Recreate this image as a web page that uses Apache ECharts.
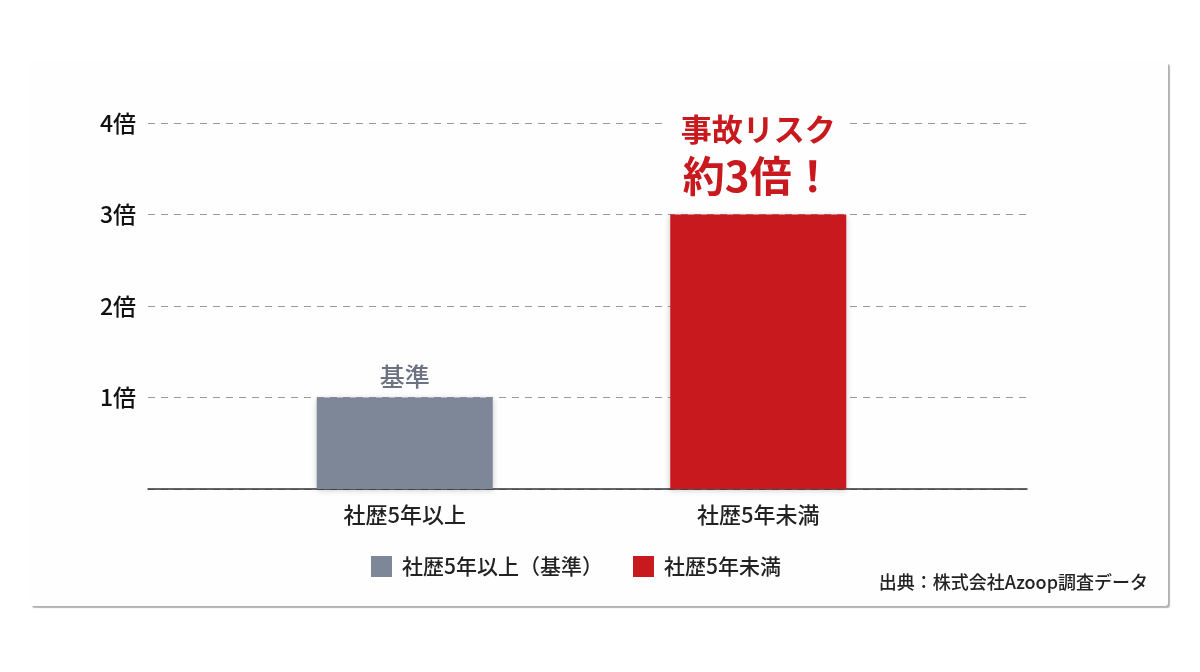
<!DOCTYPE html>
<html>
<head>
<meta charset="utf-8">
<script src="https://cdn.jsdelivr.net/npm/echarts@6/dist/echarts.min.js"></script>
<style>
  html, body { margin: 0; padding: 0; background: #fff; }
  #chart { width: 1200px; height: 672px; }
</style>
</head>
<body>
<div id="chart"></div>
<script>
// 社歴別 事故リスク比較
var categories = ["社歴5年以上", "社歴5年未満"];
var seriesNames = ["社歴5年以上（基準）", "社歴5年未満"];
var baseValues = [1, "-"];
var youngValues = ["-", 3];
var yTicks = [0, 1, 2, 3, 4];
var sourceText = "出典：株式会社Azoop調査データ";

var FONT = '"Noto Sans CJK JP", "Noto Sans", sans-serif';

var chart = echarts.init(document.getElementById("chart"));

var option = {
  backgroundColor: "#ffffff",
  textStyle: { fontFamily: FONT },
  graphic: [
    {
      type: "rect",
      z: -10,
      shape: { x: 30, y: 62, width: 1138, height: 544, r: 3 },
      style: {
        fill: "#fefefe",
        shadowColor: "rgba(0,0,0,0.3)",
        shadowBlur: 1,
        shadowOffsetX: 2,
        shadowOffsetY: 2
      }
    },
    {
      type: "text",
      right: 52,
      top: 573,
      style: {
        text: sourceText,
        fill: "#222",
        font: '500 18px ' + FONT
      }
    }
  ],
  legend: {
    data: seriesNames,
    top: 551,
    left: 366,
    itemWidth: 21,
    itemHeight: 21,
    itemGap: 30,
    icon: "rect",
    textStyle: { fontSize: 21, color: "#222", fontFamily: FONT, fontWeight: 500, padding: [0, 0, 0, 5] }
  },
  grid: [
    // 罫線用
    { left: 148, right: 173, top: 123, bottom: 183 },
    // 棒グラフ用
    { left: 228, right: 265, top: 123, bottom: 183 }
  ],
  xAxis: [
    {
      gridIndex: 0,
      type: "value",
      min: 0,
      max: 1,
      axisLine: { show: true, onZero: false, lineStyle: { color: "#333", width: 1.5 } },
      axisTick: { show: false },
      axisLabel: { show: false },
      splitLine: { show: false }
    },
    {
      gridIndex: 1,
      type: "category",
      data: categories,
      axisLine: { show: false },
      axisTick: { show: false },
      axisLabel: { fontSize: 22, color: "#222", margin: 15, fontFamily: FONT, fontWeight: 500 }
    }
  ],
  yAxis: [
    {
      gridIndex: 0,
      type: "value",
      min: yTicks[0],
      max: yTicks[yTicks.length - 1],
      interval: 1,
      axisLine: { show: false },
      axisTick: { show: false },
      axisLabel: {
        fontSize: 23,
        color: "#111",
        margin: 12,
        fontFamily: FONT,
        fontWeight: 500,
        formatter: function (v) { return v === 0 ? "" : v + "倍"; }
      },
      splitLine: { lineStyle: { color: "#999", type: [7, 6], width: 1.2 } }
    },
    {
      gridIndex: 1,
      type: "value",
      min: 0,
      max: 4,
      show: false,
      splitLine: { show: false }
    }
  ],
  series: [
    {
      name: seriesNames[0],
      type: "bar",
      xAxisIndex: 1,
      yAxisIndex: 1,
      barWidth: 176,
      barGap: "-100%",
      data: baseValues,
      itemStyle: {
        color: "#7d8797",
        shadowColor: "rgba(0,0,0,0.22)",
        shadowBlur: 6,
        shadowOffsetY: 1
      },
      label: {
        show: true,
        position: "top",
        distance: 8,
        formatter: "基準",
        fontSize: 25,
        color: "#6b7383",
        fontFamily: FONT,
        fontWeight: 500
      }
    },
    {
      name: seriesNames[1],
      type: "bar",
      xAxisIndex: 1,
      yAxisIndex: 1,
      barWidth: 176,
      barGap: "-100%",
      data: youngValues,
      itemStyle: {
        color: "#c8191e",
        shadowColor: "rgba(0,0,0,0.22)",
        shadowBlur: 6,
        shadowOffsetY: 1
      },
      label: {
        show: true,
        position: "top",
        distance: 13,
        formatter: "{a|事故リスク}\n{b|約3倍！}",
        backgroundColor: "#fefefe",
        padding: [0, 14, 0, 14],
        rich: {
          a: { fontSize: 31, fontWeight: "bold", color: "#c8191e", lineHeight: 44, fontFamily: FONT },
          b: { fontSize: 42, fontWeight: "bold", color: "#c8191e", lineHeight: 50, fontFamily: FONT }
        }
      }
    }
  ]
};

chart.setOption(option);
</script>
</body>
</html>
